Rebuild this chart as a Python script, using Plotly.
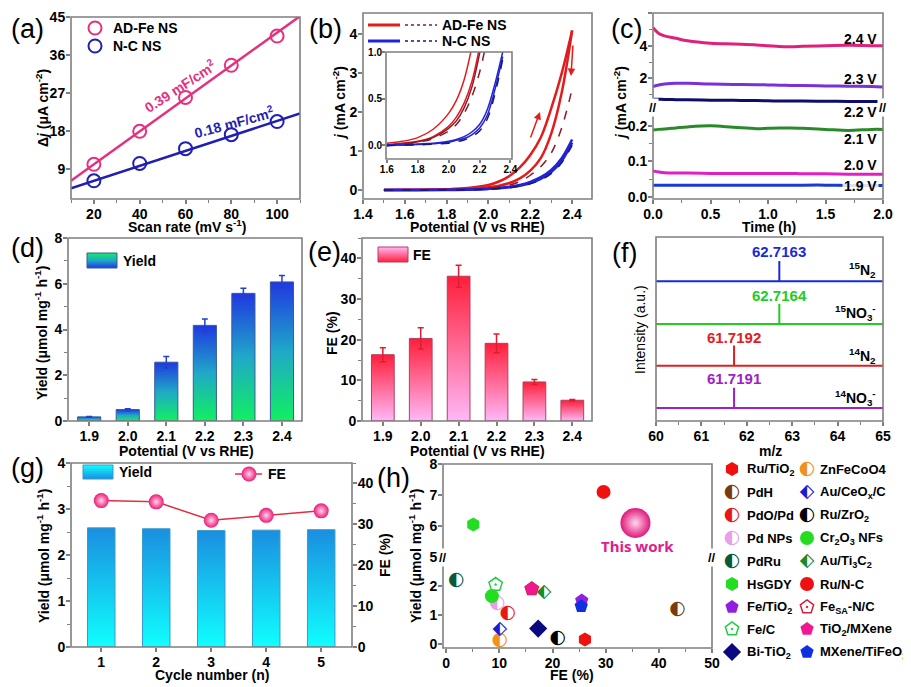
import plotly.graph_objects as go

W, H = 911, 687
OFF = 8  # page margin of the html body, compensated so the figure lands where the reference is
GRAY = '#7f7f7f'
FONT = 'Liberation Sans'

# ---------------- data ----------------
# (a) double-layer capacitance
scan_rate = [20, 40, 60, 80, 100]
adfe_dj = [10.2, 18.0, 26.0, 33.6, 40.5]
nc_dj = [6.3, 10.4, 13.9, 17.2, 20.3]
fit_rate = [10, 110]
adfe_fit = [6.3, 45.2]
nc_fit = [4.5, 22.2]

# (b) LSV curves
lsv_v = [1.5, 1.6, 1.7, 1.8, 1.9, 2.0, 2.05, 2.1, 2.15, 2.2, 2.25, 2.3, 2.35, 2.4]
adfe_solid1 = [0.0, 0.005, 0.01, 0.02, 0.05, 0.13, 0.22, 0.36, 0.58, 0.9, 1.35, 2.1, 3.0, 4.1]
adfe_solid2 = [0.0, 0.0, 0.005, 0.01, 0.03, 0.07, 0.11, 0.18, 0.3, 0.5, 0.82, 1.45, 2.5, 4.1]
adfe_dash = [0.0, 0.0, 0.0, 0.005, 0.02, 0.05, 0.08, 0.13, 0.22, 0.38, 0.6, 0.95, 1.6, 2.6]
nc_solid1 = [0.0, 0.0, 0.0, 0.005, 0.015, 0.035, 0.055, 0.085, 0.13, 0.21, 0.33, 0.52, 0.82, 1.3]
nc_solid2 = [0.0, 0.0, 0.0, 0.003, 0.01, 0.03, 0.045, 0.07, 0.11, 0.18, 0.29, 0.46, 0.75, 1.22]
nc_dash = [0.0, 0.0, 0.0, 0.002, 0.008, 0.025, 0.04, 0.06, 0.1, 0.16, 0.26, 0.42, 0.7, 1.15]
# inset
ins_v = [1.6, 1.7, 1.8, 1.9, 2.0, 2.05, 2.1, 2.15, 2.2, 2.25, 2.3, 2.35]
ins_adfe_s1 = [0.02, 0.04, 0.08, 0.17, 0.34, 0.48, 0.7, 1.05, 1.5, 2.0, 2.5, 3.0]
ins_adfe_s2 = [0.0, 0.02, 0.04, 0.09, 0.2, 0.3, 0.45, 0.68, 1.05, 1.5, 2.0, 2.5]
ins_adfe_d1 = [0.0, 0.01, 0.03, 0.07, 0.15, 0.22, 0.34, 0.52, 0.78, 1.15, 1.6, 2.0]
ins_adfe_d2 = [0.0, 0.015, 0.035, 0.08, 0.18, 0.26, 0.4, 0.62, 0.98, 1.4, 1.8, 2.2]
ins_nc_s1 = [0.0, 0.0, 0.01, 0.02, 0.04, 0.06, 0.09, 0.14, 0.22, 0.38, 0.66, 1.0]
ins_nc_s2 = [0.0, 0.0, 0.005, 0.015, 0.03, 0.05, 0.07, 0.11, 0.18, 0.32, 0.6, 0.95]
ins_nc_d = [-0.01, 0.0, 0.0, 0.01, 0.02, 0.035, 0.055, 0.09, 0.15, 0.28, 0.55, 0.92]

# (c) chronoamperometry
time_h = [0, 0.05, 0.1, 0.2, 0.3, 0.5, 0.7, 0.9, 1.0, 1.1, 1.2, 1.3, 1.5, 1.7, 1.9, 2.0]
j_24 = [5.1, 4.75, 4.6, 4.45, 4.3, 4.15, 4.1, 4.05, 4.0, 3.95, 3.94, 3.96, 4.0, 4.02, 4.0, 4.0]
j_23 = [1.5, 1.6, 1.65, 1.7, 1.7, 1.66, 1.63, 1.61, 1.6, 1.58, 1.57, 1.56, 1.54, 1.52, 1.5, 1.48]
j_22 = [0.73, 0.72, 0.71, 0.7, 0.69, 0.67, 0.66, 0.64, 0.63, 0.62, 0.62, 0.61, 0.6, 0.59, 0.58, 0.58]
j_21 = [0.188, 0.19, 0.191, 0.194, 0.197, 0.2, 0.196, 0.192, 0.193, 0.194, 0.194, 0.193, 0.19, 0.187, 0.19, 0.19]
j_20 = [0.073, 0.07, 0.068, 0.067, 0.067, 0.066, 0.066, 0.066, 0.066, 0.066, 0.066, 0.065, 0.065, 0.064, 0.064, 0.064]
j_19 = [0.033, 0.033, 0.033, 0.033, 0.033, 0.033, 0.033, 0.033, 0.033, 0.033, 0.033, 0.033, 0.033, 0.032, 0.032, 0.032]
c_labels = ['2.4 V', '2.3 V', '2.2 V', '2.1 V', '2.0 V', '1.9 V']

# (d) / (e) yield and FE vs potential
potential = [1.9, 2.0, 2.1, 2.2, 2.3, 2.4]
pot_labels = ['1.9', '2.0', '2.1', '2.2', '2.3', '2.4']
yield_pot = [0.18, 0.5, 2.57, 4.18, 5.58, 6.08]
yield_err = [0.02, 0.04, 0.25, 0.28, 0.22, 0.28]
fe_pot = [16.3, 20.3, 35.6, 19.1, 9.6, 5.1]
fe_err = [1.7, 2.6, 2.7, 2.3, 0.6, 0.2]

# (f) mass spectra
ms_peaks = [62.7163, 62.7164, 61.7192, 61.7191]
ms_peak_labels = ['62.7163', '62.7164', '61.7192', '61.7191']
ms_names = ['<sup>15</sup>N<sub>2</sub>', '<sup>15</sup>NO<sub>3</sub><sup>-</sup>',
            '<sup>14</sup>N<sub>2</sub>', '<sup>14</sup>NO<sub>3</sub><sup>-</sup>']
ms_height = 1.1

# (g) cycling
cycles = [1, 2, 3, 4, 5]
yield_cyc = [2.59, 2.57, 2.53, 2.54, 2.55]
fe_cyc = [35.8, 35.5, 31.0, 32.2, 33.3]

# (h) comparison
cmp_names = ['Ru/TiO<sub>2</sub>', 'PdH', 'PdO/Pd', 'Pd NPs', 'PdRu', 'HsGDY', 'Fe/TiO<sub>2</sub>', 'Fe/C',
             'Bi-TiO<sub>2</sub>', 'ZnFeCoO4', 'Au/CeO<sub>x</sub>/C', 'Ru/ZrO<sub>2</sub>',
             'Cr<sub>2</sub>O<sub>3</sub> NFs', 'Au/Ti<sub>3</sub>C<sub>2</sub>', 'Ru/N-C',
             'Fe<sub>SA</sub>-N/C', 'TiO<sub>2</sub>/MXene', 'MXene/TiFeO<sub>x</sub>']
cmp_fe = [26.1, 43.5, 11.6, 9.6, 1.9, 5.1, 25.5, 9.3, 17.3, 10.1, 10.1, 21.0, 8.6, 18.4, 29.6, 16.1, 16.1, 25.4]
cmp_yield = [0.15, 1.2, 1.07, 1.4, 2.2, 6.05, 1.5, 2.05, 0.53, 0.12, 0.5, 0.2, 1.65, 1.78, 7.1, 1.9, 1.9, 1.3]
this_fe = [35.6]
this_yield = [6.1]

# styles for (h)
cmp_colors = ['#f01010', '#7a3a10', '#e81818', '#e8a0e8', '#0a5a3a', '#22dd22', '#9020e0', '#22cc44',
              '#0a0a80', '#f09020', '#1a1ad0', '#000000', '#22dd22', '#1a8a2a', '#f01010',
              '#d02040', '#f01890', '#1030e0']
cmp_kind = ['hexagon', 'half-c', 'half-c', 'half-c', 'half-c', 'hexagon', 'pentagon', 'pentagon-open-dot',
            'diamond', 'half-c', 'half-d', 'half-c', 'circle', 'half-d', 'circle',
            'pentagon-open-dot', 'pentagon', 'pentagon']

# ---------------- helpers ----------------
def xd(l, r):
    return [(l - OFF) / W, (r - OFF) / W]

def yd(t, b):
    return [1 - (b - OFF) / H, 1 - (t - OFF) / H]

fig = go.Figure()

def axis(**kw):
    base = dict(showgrid=False, zeroline=False, showline=False, ticks='outside', ticklen=4,
                tickwidth=1.5, tickcolor=GRAY, fixedrange=True, automargin=False, ticklabelstandoff=-2,
                tickfont=dict(family=FONT, size=14, color='black', weight='bold'))
    base.update(kw)
    return base

def minor(d):
    return dict(ticks='outside', ticklen=3, tickwidth=1.2, tickcolor=GRAY, dtick=d, showgrid=False)

def gradient_bars(xs, vals, width, cs, xa, ya, edge):
    for x, v in zip(xs, vals):
        fig.add_trace(go.Scatter(
            x=[x - width / 2, x - width / 2, x + width / 2, x + width / 2, x - width / 2],
            y=[0, v, v, 0, 0], mode='lines', fill='toself',
            fillgradient=dict(type='vertical', colorscale=cs),
            line=dict(color=edge, width=1), xaxis=xa, yaxis=ya))

# ---------------- (a) ----------------
PINK = '#e5317d'
NAVY = '#1f1fb0'
fig.add_trace(go.Scatter(x=fit_rate, y=adfe_fit, mode='lines', line=dict(color=PINK, width=2.5), xaxis='x', yaxis='y'))
fig.add_trace(go.Scatter(x=fit_rate, y=nc_fit, mode='lines', line=dict(color=NAVY, width=2.5), xaxis='x', yaxis='y'))
fig.add_trace(go.Scatter(x=scan_rate, y=adfe_dj, mode='markers',
                         marker=dict(symbol='circle-open', size=13, color=PINK, line=dict(width=2)), xaxis='x', yaxis='y'))
fig.add_trace(go.Scatter(x=scan_rate, y=nc_dj, mode='markers',
                         marker=dict(symbol='circle-open', size=13, color=NAVY, line=dict(width=2)), xaxis='x', yaxis='y'))

# ---------------- (b) ----------------
RED = '#e41b1b'
DRED = '#8b1a2a'
BLUE = '#2222d8'
DBLUE = '#1a1a70'
for ys, c, w, dash in [(adfe_solid1, RED, 2.5, 'solid'), (adfe_solid2, RED, 2.5, 'solid'),
                       (adfe_dash, DRED, 1.5, 'dash'), (nc_solid1, BLUE, 2.5, 'solid'),
                       (nc_solid2, BLUE, 2.5, 'solid'), (nc_dash, DBLUE, 1.5, 'dash')]:
    fig.add_trace(go.Scatter(x=lsv_v, y=ys, mode='lines', line=dict(color=c, width=w, dash=dash, shape='spline'),
                             xaxis='x2', yaxis='y2'))
for ys, c, dash in [(ins_adfe_s1, RED, 'solid'), (ins_adfe_s2, RED, 'solid'), (ins_adfe_d2, DRED, 'solid'),
                    (ins_adfe_d1, DRED, 'dash'), (ins_nc_s1, BLUE, 'solid'), (ins_nc_s2, BLUE, 'solid'),
                    (ins_nc_d, DBLUE, 'dash')]:
    fig.add_trace(go.Scatter(x=ins_v, y=ys, mode='lines', line=dict(color=c, width=1.5, dash=dash, shape='spline'),
                             xaxis='x3', yaxis='y3'))

# ---------------- (c) ----------------
c_upper = [(j_24, '#e0207a'), (j_23, '#7a30d8'), (j_22, '#0d0d6a')]
c_lower = [(j_21, '#2a8a2a'), (j_20, '#e020c0'), (j_19, '#1a3ad0')]
for ys, c in c_upper:
    fig.add_trace(go.Scatter(x=time_h, y=ys, mode='lines', line=dict(color=c, width=3, shape='spline'),
                             xaxis='x4', yaxis='y5'))
for ys, c in c_lower:
    fig.add_trace(go.Scatter(x=time_h, y=ys, mode='lines', line=dict(color=c, width=3, shape='spline'),
                             xaxis='x4', yaxis='y4'))

# ---------------- (d) ----------------
CS_D = [[0, '#10f060'], [0.5, '#20a8c8'], [1, '#1f38e0']]
gradient_bars(potential, yield_pot, 0.06, CS_D, 'x5', 'y6', '#3a5a9a')
fig.add_trace(go.Scatter(x=potential, y=yield_pot, mode='markers', marker=dict(size=1, color='rgba(0,0,0,0)'),
                         error_y=dict(type='data', array=yield_err, color='#2040d0', thickness=1.5, width=3),
                         xaxis='x5', yaxis='y6'))

# ---------------- (e) ----------------
CS_E = [[0, '#ffb8f8'], [1, '#ff1f3a']]
gradient_bars(potential, fe_pot, 0.06, CS_E, 'x6', 'y7', '#b04060')
fig.add_trace(go.Scatter(x=potential, y=fe_pot, mode='markers', marker=dict(size=1, color='rgba(0,0,0,0)'),
                         error_y=dict(type='data', array=fe_err, color='#e01c30', thickness=1.5, width=3),
                         xaxis='x6', yaxis='y7'))

# ---------------- (f) ----------------
ms_colors = ['#1a2ad8', '#22cc22', '#e02020', '#a020c8']
ms_offsets = [7.6, 5.27, 3.0, 0.71]
for p, c, off in zip(ms_peaks, ms_colors, ms_offsets):
    fig.add_trace(go.Scatter(x=[60, p, p, p, 65], y=[off, off, off + ms_height, off, off], mode='lines',
                             line=dict(color=c, width=2), xaxis='x7', yaxis='y8'))

# ---------------- (g) ----------------
CS_G = [[0, '#10ffff'], [1, '#1a8ee0']]
gradient_bars(cycles, yield_cyc, 0.5, CS_G, 'x8', 'y9', '#3a9ac8')
fig.add_trace(go.Scatter(x=cycles, y=fe_cyc, mode='lines+markers', line=dict(color='#e03040', width=1.5),
                         marker=dict(size=15, color='#ee1a78', gradient=dict(type='radial', color='#ffd6ea')),
                         xaxis='x8', yaxis='y10'))

# ---------------- (h) ----------------
def half_glyph(kind):
    return '\u25D0' if kind == 'half-c' else '\u2B16'

for i in range(len(cmp_names)):
    k = cmp_kind[i]
    ya = 'y12' if cmp_yield[i] > 4 else 'y11'
    if k.startswith('half'):
        fig.add_trace(go.Scatter(x=[cmp_fe[i]], y=[cmp_yield[i]], mode='text', text=[half_glyph(k)],
                                 textposition='middle center',
                                 textfont=dict(family='DejaVu Sans', size=19, color=cmp_colors[i]),
                                 xaxis='x9', yaxis=ya))
    else:
        fig.add_trace(go.Scatter(x=[cmp_fe[i]], y=[cmp_yield[i]], mode='markers',
                                 marker=dict(symbol=k, size=14, color=cmp_colors[i],
                                             line=dict(color=cmp_colors[i], width=1.5 if 'open' in k else 0)),
                                 xaxis='x9', yaxis=ya))
fig.add_trace(go.Scatter(x=this_fe, y=this_yield, mode='markers',
                         marker=dict(size=30, color='#e0187a', gradient=dict(type='radial', color='#ffd8ee')),
                         xaxis='x9', yaxis='y12'))

# ---------------- overlay (pixel space of the reference) ----------------
OV = dict(xaxis='x10', yaxis='y13')
fig.add_trace(go.Scatter(x=[95, 95], y=[28, 46], mode='markers',
                         marker=dict(symbol='circle-open', size=13, color=[PINK, NAVY], line=dict(width=2)), **OV))
fig.add_trace(go.Scatter(x=[368, 400], y=[25, 25], mode='lines', line=dict(color=RED, width=3), **OV))
fig.add_trace(go.Scatter(x=[405, 437], y=[25, 25], mode='lines', line=dict(color=DRED, width=1.5, dash='dot'), **OV))
fig.add_trace(go.Scatter(x=[368, 400], y=[41, 41], mode='lines', line=dict(color=BLUE, width=3), **OV))
fig.add_trace(go.Scatter(x=[405, 437], y=[41, 41], mode='lines', line=dict(color=DBLUE, width=1.5, dash='dot'), **OV))

def legend_rect(x0, x1, y0, y1, cs, edge):
    rev = [[1 - p, c] for p, c in cs][::-1]
    fig.add_trace(go.Scatter(x=[x0, x0, x1, x1, x0], y=[y1, y0, y0, y1, y1], mode='lines', fill='toself',
                             fillgradient=dict(type='vertical', colorscale=rev),
                             line=dict(color=edge, width=1), **OV))

legend_rect(87, 117, 253, 268, CS_D, '#3a5a9a')
legend_rect(378, 408, 247, 262, CS_E, '#b04060')
legend_rect(83, 113, 465, 479, CS_G, '#3a9ac8')
fig.add_trace(go.Scatter(x=[235, 262], y=[474, 474], mode='lines', line=dict(color='#e03040', width=1.5), **OV))
fig.add_trace(go.Scatter(x=[249], y=[474], mode='markers',
                         marker=dict(size=15, color='#ee1a78', gradient=dict(type='radial', color='#ffd6ea')), **OV))

leg_rows = [469, 492, 515, 538, 561, 584, 607, 629, 652]
for i in range(len(cmp_names)):
    col = i // 9
    row = i % 9
    ix = 732 if col == 0 else 807
    k = cmp_kind[i]
    if k.startswith('half'):
        fig.add_trace(go.Scatter(x=[ix], y=[leg_rows[row]], mode='text', text=[half_glyph(k)],
                                 textposition='middle center',
                                 textfont=dict(family='DejaVu Sans', size=19, color=cmp_colors[i]), **OV))
    else:
        fig.add_trace(go.Scatter(x=[ix], y=[leg_rows[row]], mode='markers',
                                 marker=dict(symbol=k, size=14, color=cmp_colors[i],
                                             line=dict(color=cmp_colors[i], width=1.5 if 'open' in k else 0)), **OV))

for tr in fig.data:
    tr.showlegend = False
    tr.hoverinfo = 'skip'

# ---------------- annotations ----------------
ann = []

def txt(x, y, s, size=14, color='black', angle=0, xanchor='center', weight='bold', family=FONT, bg=None):
    d = dict(x=x, y=y, xref='x10', yref='y13', text=s, showarrow=False, textangle=angle, xanchor=xanchor,
             yanchor='middle', font=dict(family=family, size=size, color=color, weight=weight))
    if bg:
        d['bgcolor'] = bg
    ann.append(d)

for lab, x, y in [('(a)', 27, 29), ('(b)', 325, 29), ('(c)', 626, 29), ('(d)', 27, 248), ('(e)', 324, 252),
                  ('(f)', 624, 253), ('(g)', 27, 468), ('(h)', 393, 478)]:
    txt(x, y, lab, size=27, weight='normal')

txt(187, 226, 'Scan rate (mV s<sup>-1</sup>)')
txt(42, 108, '\u0394<i>j</i> (\u03bcA cm<sup>-2</sup>)', angle=-90)
txt(477, 227, 'Potential (V vs RHE)')
txt(339, 103, '<i>j</i> (mA cm<sup>-2</sup>)', angle=-90)
txt(769, 227, 'Time (h)')
txt(620, 103, '<i>j</i> (mA cm<sup>-2</sup>)', angle=-90)
txt(186, 451, 'Potential (V vs RHE)')
txt(41, 333, 'Yield (\u03bcmol mg<sup>-1</sup> h<sup>-1</sup>)', angle=-90)
txt(477, 451, 'Potential (V vs RHE)')
txt(332, 333, 'FE (%)', angle=-90)
txt(770, 451, 'm/z')
txt(640, 330, 'Intensity (a.u.)', angle=-90, weight='normal')
txt(212, 675, 'Cycle number (n)')
txt(43, 556, 'Yield (\u03bcmol mg<sup>-1</sup> h<sup>-1</sup>)', angle=-90)
txt(385, 555, 'FE (%)', angle=-90)
txt(572, 675, 'FE (%)')
txt(415, 556, 'Yield (\u03bcmol mg<sup>-1</sup> h<sup>-1</sup>)', angle=-90)

txt(111, 28, 'AD-Fe NS', xanchor='left')
txt(111, 46, 'N-C NS', xanchor='left')
txt(440, 25, 'AD-Fe NS', xanchor='left')
txt(440, 41, 'N-C NS', xanchor='left')
txt(121, 261, 'Yield', xanchor='left')
txt(411, 255, 'FE', xanchor='left')
txt(117, 472, 'Yield', xanchor='left')
txt(266, 474, 'FE', xanchor='left')

txt(180, 86, '0.39 mF/cm<sup>2</sup>', color=PINK, angle=-33)
txt(234, 122, '0.18 mF/cm<sup>2</sup>', color=NAVY, angle=-15)

c_label_y = [39, 79, 112, 139, 165, 186]
for s, y in zip(c_labels, c_label_y):
    txt(879, y, s, xanchor='right', bg='rgba(255,255,255,0.85)' if s == '1.9 V' else None)

ms_label_pos = [(779, 251), (779, 295), (734, 337), (734, 378)]
for s, (x, y), c in zip(ms_peak_labels, ms_label_pos, ms_colors):
    txt(x, y, s, color=c, size=15)
for s, y in zip(ms_names, [270, 313, 356, 398]):
    txt(878, y, s, xanchor='right')

txt(637, 546, 'This work', color='#e0208a', size=15, family='Noto Sans')
for i, name in enumerate(cmp_names):
    col = i // 9
    row = i % 9
    tx = 745 if col == 0 else 818
    txt(tx, leg_rows[row], name, xanchor='left', size=13)

for x, y in [(653, 107), (883, 107), (443, 557), (712, 557)]:
    txt(x, y, '//', size=13, color='black', bg='white')

ann.append(dict(x=540, y=112, ax=530, ay=139, xref='x10', yref='y13', axref='x10', ayref='y13',
                showarrow=True, arrowhead=2, arrowsize=1, arrowwidth=1.5, arrowcolor=RED, text=''))
ann.append(dict(x=571, y=76, ax=573, ay=44, xref='x10', yref='y13', axref='x10', ayref='y13',
                showarrow=True, arrowhead=2, arrowsize=1, arrowwidth=1.5, arrowcolor=RED, text=''))

frames = [(71, 17, 300, 199), (363, 13, 592, 199), (386, 52, 512, 159), (653, 13, 883, 199),
          (68, 238, 302, 421), (362, 238, 592, 421), (656, 237, 883, 421), (71, 463, 352, 647),
          (443, 464, 712, 648)]
shapes = [dict(type='rect', xref='x10', yref='y13', x0=a, y0=b, x1=c, y1=d,
               line=dict(color=GRAY, width=1.6), layer='above') for a, b, c, d in frames]

small = dict(family=FONT, size=10, color='black', weight='bold')
fig.update_layout(
    template='none',
    width=W, height=H, margin=dict(l=0, r=0, t=0, b=0, pad=0, autoexpand=False), paper_bgcolor='white',
    plot_bgcolor='rgba(0,0,0,0)', showlegend=False,
    font=dict(family=FONT, size=14, color='black'),
    annotations=ann, shapes=shapes,
    xaxis=axis(domain=xd(71, 300), range=[10, 110], tickvals=[20, 40, 60, 80, 100], minor=minor(10), anchor='y'),
    yaxis=axis(domain=yd(17, 199), range=[2, 45], tickvals=[9, 18, 27, 36, 45], anchor='x'),
    xaxis2=axis(domain=xd(363, 592), range=[1.4, 2.495], tickvals=[1.4, 1.6, 1.8, 2.0, 2.2, 2.4],
                tickformat='.1f', minor=minor(0.1), anchor='y2'),
    yaxis2=axis(domain=yd(13, 199), range=[-0.23, 4.55], tickvals=[0, 1, 2, 3, 4], anchor='x2'),
    xaxis3=axis(domain=xd(386, 512), range=[1.595, 2.41], tickvals=[1.6, 1.8, 2.0, 2.2, 2.4], tickformat='.1f',
                tickfont=small, ticklen=3, anchor='y3'),
    yaxis3=axis(domain=yd(52, 159), range=[-0.15, 1.0], tickvals=[0, 0.5, 1.0], tickformat='.1f',
                tickfont=small, ticklen=3, anchor='x3'),
    xaxis4=axis(domain=xd(653, 883), range=[0, 2], tickvals=[0, 0.5, 1.0, 1.5, 2.0], tickformat='.1f',
                minor=minor(0.25), anchor='y4'),
    yaxis4=axis(domain=yd(107, 199), range=[-0.006, 0.253], tickvals=[0, 0.1, 0.2], tickformat='.1f',
                minor=minor(0.05), anchor='x4'),
    yaxis5=axis(domain=yd(13, 107), range=[0.25, 6.0], tickvals=[2, 4, 6], minor=minor(1), anchor='x4'),
    xaxis5=axis(domain=xd(68, 302), range=[1.845, 2.452], tickvals=potential, ticktext=pot_labels, anchor='y6'),
    yaxis6=axis(domain=yd(238, 421), range=[0, 8], tickvals=[0, 2, 4, 6, 8], minor=minor(1), anchor='x5'),
    xaxis6=axis(domain=xd(362, 592), range=[1.845, 2.452], tickvals=potential, ticktext=pot_labels, anchor='y7'),
    yaxis7=axis(domain=yd(238, 421), range=[0, 45], tickvals=[0, 10, 20, 30, 40], minor=minor(5), anchor='x6'),
    xaxis7=axis(domain=xd(656, 883), range=[60, 65], dtick=1, minor=minor(0.5), anchor='y8'),
    yaxis8=axis(domain=yd(237, 421), range=[0, 10], showticklabels=False, ticks='', anchor='x7'),
    xaxis8=axis(domain=xd(71, 352), range=[0.45, 5.56], tickvals=cycles, anchor='y9'),
    yaxis9=axis(domain=yd(463, 647), range=[0, 4], tickvals=[0, 1, 2, 3, 4], minor=minor(0.5), anchor='x8'),
    yaxis10=axis(domain=yd(463, 647), range=[0, 45], tickvals=[0, 10, 20, 30, 40], minor=minor(5),
                 anchor='x8', overlaying='y9', side='right'),
    xaxis9=axis(domain=xd(443, 712), range=[-0.6, 50], tickvals=[0, 10, 20, 30, 40, 50], minor=minor(5), anchor='y11'),
    yaxis11=axis(domain=yd(557, 648), range=[-0.14, 3.0], tickvals=[0, 1, 2], anchor='x9'),
    yaxis12=axis(domain=yd(464, 557), range=[5, 8], tickvals=[5, 6, 7, 8], anchor='x9'),
    xaxis10=dict(domain=[0, 1], range=[OFF, W + OFF], visible=False, fixedrange=True, anchor='y13', automargin=False),
    yaxis13=dict(domain=[0, 1], range=[H + OFF, OFF], visible=False, fixedrange=True, anchor='x10', automargin=False),
)

fig.write_html('out.html')
